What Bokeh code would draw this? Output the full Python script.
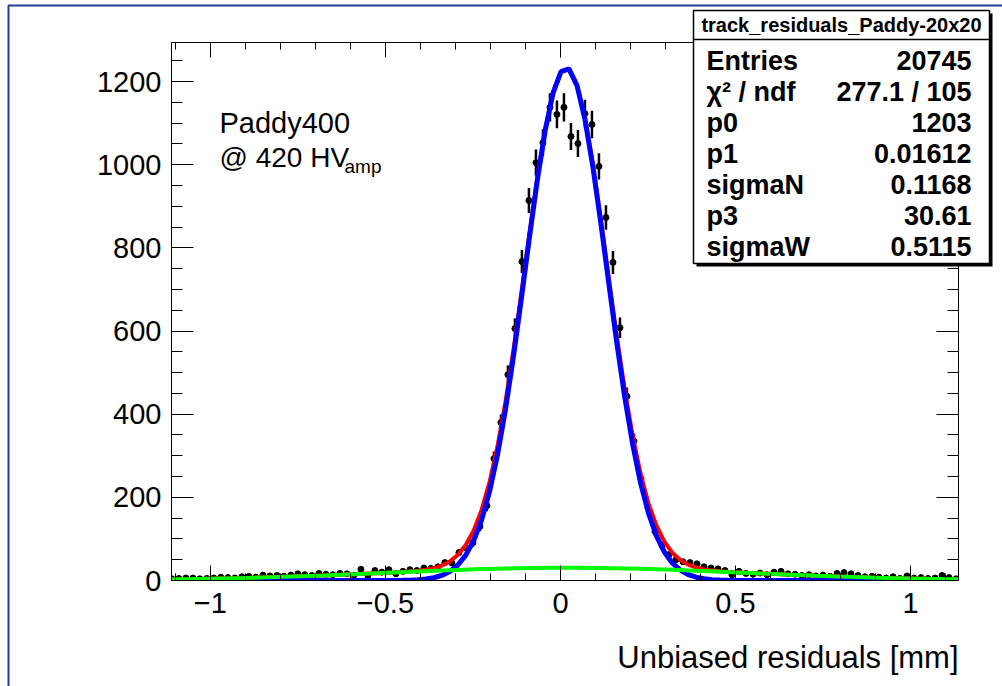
import numpy as np
from bokeh.plotting import figure
from bokeh.models import Range1d, LinearAxis, FixedTicker, Label
from bokeh.core.properties import value
from bokeh.embed import file_html
from bokeh.resources import INLINE

# ---------------- data ----------------
bin_low = -1.12
bin_width = 0.02
counts_neg = [4, 5, 6, 6, 4, 5, 6, 8, 7, 6,
              9, 10, 8, 13, 11, 12, 10, 13, 16, 14,
              12, 17, 15, 14, 17, 16, 13, 27, 12, 24,
              20, 26, 16, 22, 26, 24, 30, 29, 33, 43,
              42, 67, 79, 91, 130, 180, 293, 380, 495, 606,
              767, 914, 1005, 1053, 1138, 1121]
counts_pos = [1138, 1068, 1051, 1123, 1097, 996, 873, 765, 608, 443,
              335, 245, 175, 118, 84, 62, 50, 45, 43, 40,
              33, 30, 28, 24, 13, 22, 17, 15, 18, 14,
              20, 22, 16, 15, 12, 14, 11, 13, 10, 17,
              19, 16, 12, 9, 10, 8, 6, 9, 5, 11,
              6, 7, 5, 6, 12, 7, 4]
counts = counts_neg + counts_pos

fit_p0 = 1203.0
fit_p1 = 0.01612
fit_sigmaN = 0.1168
fit_p3 = 30.61
fit_sigmaW = 0.5115

x_ticks = [-1.0, -0.5, 0.0, 0.5, 1.0]
x_tick_labels = ["\u22121", "\u22120.5", "0", "0.5", "1"]
y_ticks = [0, 200, 400, 600, 800, 1000, 1200]

stats_title = "track_residuals_Paddy-20x20"
stats_names = ["Entries", "\u03c7\u00b2 / ndf", "p0", "p1", "sigmaN", "p3", "sigmaW"]
stats_values = ["20745", "277.1 / 105", "1203", "0.01612", "0.1168", "30.61", "0.5115"]

x_title = "Unbiased residuals [mm]"
note_line1 = "Paddy400"
note_line2 = "@ 420 HV"
note_sub = "amp"

# ---------------- geometry ----------------
W, H = 1002, 686
FL, FR, FT, FB = 171, 958, 42, 580
X0, X1 = -1.111, 1.137
Y0, Y1 = 0.0, 1294.0

FONT = "Liberation Sans"

p = figure(width=W, height=H, x_range=Range1d(X0, X1), y_range=Range1d(Y0, Y1),
           output_backend="svg", toolbar_location=None,
           min_border_left=FL, min_border_right=W - FR,
           min_border_top=FT, min_border_bottom=H - FB)
p.xgrid.visible = False
p.ygrid.visible = False
p.outline_line_color = "black"
p.outline_line_width = 1
p.background_fill_color = "white"
p.border_fill_color = "white"

x_minor = [round(-1.1 + 0.1 * i, 2) for i in range(23)]
x_minor = [v for v in x_minor if all(abs(v - t) > 1e-6 for t in x_ticks)]
y_minor = [50 * i for i in range(1, 26) if (50 * i) % 200 != 0]


def style_axis(ax, ticks, minor, maj_in, min_in, labels):
    ax.ticker = FixedTicker(ticks=ticks, minor_ticks=minor)
    ax.major_tick_in = maj_in
    ax.major_tick_out = 0
    ax.minor_tick_in = min_in
    ax.minor_tick_out = 0
    ax.axis_line_color = "black"
    ax.major_tick_line_color = "black"
    ax.minor_tick_line_color = "black"
    ax.axis_line_width = 1
    ax.major_tick_line_width = 1
    ax.minor_tick_line_width = 1
    ax.major_label_text_font = FONT
    ax.major_label_text_font_size = "29px"
    ax.major_label_text_color = "black"
    ax.major_label_overrides = {t: s for t, s in zip(ticks, labels)}


xa = p.xaxis[0]
style_axis(xa, x_ticks, x_minor, 15, 7, x_tick_labels)
xa.major_label_standoff = 12

ya = p.yaxis[0]
style_axis(ya, y_ticks, y_minor, 22, 11, [str(t) for t in y_ticks])
ya.major_label_standoff = 10

top_ax = LinearAxis()
style_axis(top_ax, x_ticks, x_minor, 15, 7, ["" for _ in x_ticks])
top_ax.major_label_standoff = 0
p.add_layout(top_ax, "above")
right_ax = LinearAxis()
style_axis(right_ax, y_ticks, y_minor, 22, 11, ["" for _ in y_ticks])
right_ax.major_label_standoff = 0
p.add_layout(right_ax, "right")

# ---------------- histogram points ----------------
xc = np.array([bin_low + bin_width * (i + 0.5) for i in range(len(counts))])
yc = np.array(counts, dtype=float)
err = np.sqrt(yc)
p.segment(x0=xc, y0=yc - err, x1=xc, y1=yc + err, line_color="black", line_width=2.5)
p.scatter(xc, yc, size=6, marker="circle", color="black")

# ---------------- fit curves (from displayed parameters) ----------------
xf = np.linspace(X0, X1, 100)
g_narrow = np.exp(-0.5 * ((xf - fit_p1) / fit_sigmaN) ** 2)
g_wide = np.exp(-0.5 * ((xf - fit_p1) / fit_sigmaW) ** 2)
total = fit_p0 * g_narrow + fit_p3 * g_wide
core = (fit_p0 + fit_p3) * g_narrow
wide = fit_p3 * g_wide
p.line(xf, total, line_color="#ff0000", line_width=4)
p.line(xf, core, line_color="#0000ff", line_width=5)
p.line(xf, wide, line_color="#00ff00", line_width=4)


# ---------------- in-frame notes ----------------
def flabel(px, py, text, size):
    x = X0 + (px - FL) / (FR - FL) * (X1 - X0)
    y = Y0 + (FB - py) / (FB - FT) * (Y1 - Y0)
    return Label(x=x, y=y, text=text, text_font=FONT, text_font_size=size,
                 text_align="left", text_baseline="middle", text_color="black")


p.add_layout(flabel(219, 122, note_line1, "29px"))
p.add_layout(flabel(219, 157, note_line2, "28px"))
p.add_layout(flabel(344, 166, note_sub, "19px"))

# ---------------- overlay canvas (pixel coordinates) for items outside the frame ----------------
q = figure(width=W, height=H, x_range=Range1d(0, W), y_range=Range1d(H, 0),
           output_backend="svg", toolbar_location=None, x_axis_type=None, y_axis_type=None,
           min_border=0, min_border_left=0, min_border_right=0,
           min_border_top=0, min_border_bottom=0)
q.xgrid.visible = False
q.ygrid.visible = False
q.outline_line_color = None
q.background_fill_alpha = 0
q.border_fill_alpha = 0
q.styles = {"position": "absolute", "left": "0px", "top": "0px", "z-index": "5",
            "pointer-events": "none"}

# outer canvas frame (left and top edges visible)
q.line([8, 8, 1040], [720, 5, 5], line_color="#23408e", line_width=2)

# stats box with shadow
BL, BR, BT, BB = 693, 989, 10, 263
q.quad(left=[BL + 3], right=[BR + 3], top=[BT + 3], bottom=[BB + 3],
       fill_color="black", line_color=None)
q.quad(left=[BL], right=[BR], top=[BT], bottom=[BB],
       fill_color="white", line_color="black", line_width=1.5)
q.line([BL, BR], [39, 39], line_color="black", line_width=1.3)

q.text(x=[(BL + BR) / 2], y=[24], text=[stats_title], text_font=value(FONT),
       text_font_size="20px", text_font_style="bold", text_align="center",
       text_baseline="middle", text_color="black")
row_y = [60, 91, 122, 153, 184, 215, 246]
q.text(x=[706] * len(stats_names), y=row_y, text=stats_names, text_font=value(FONT),
       text_font_size="27px", text_font_style="bold", text_align="left",
       text_baseline="middle", text_color="black")
q.text(x=[971] * len(stats_values), y=row_y, text=stats_values, text_font=value(FONT),
       text_font_size="27px", text_font_style="bold", text_align="right",
       text_baseline="middle", text_color="black")

# x-axis title
q.text(x=[958], y=[657], text=[x_title], text_font=value(FONT), text_font_size="31px",
       text_align="right", text_baseline="middle", text_color="black")

open("out.html", "w").write(file_html([p, q], INLINE))
